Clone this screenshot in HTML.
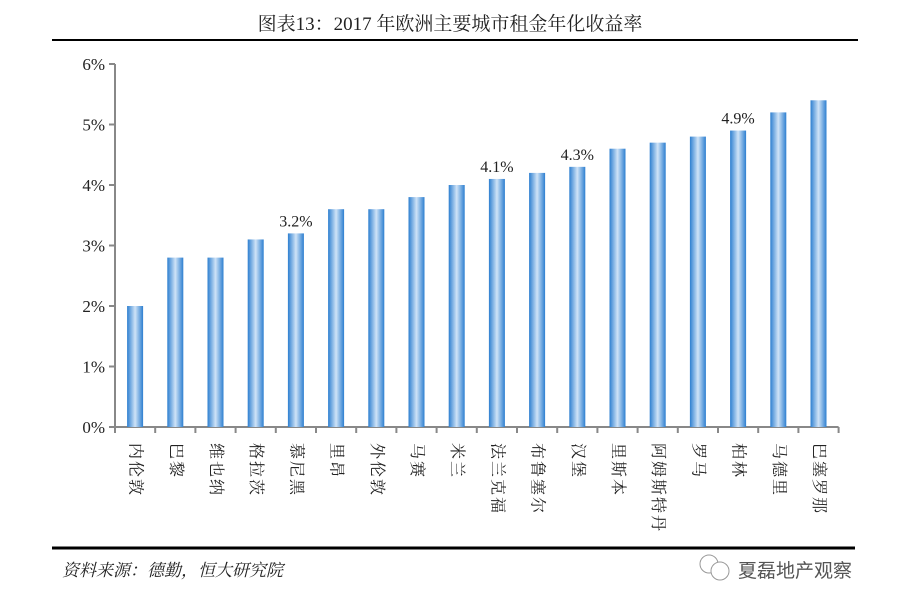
<!DOCTYPE html>
<html><head><meta charset="utf-8"><style>
body{margin:0;background:#fff;width:899px;height:608px;overflow:hidden;font-family:"Liberation Serif","Noto Serif CJK SC",serif}
</style></head><body>
<svg width="899" height="608">
<defs><linearGradient id="g" x1="0" x2="1"><stop offset="0" stop-color="#2d7fd0"/><stop offset="0.5" stop-color="#cfe3f7"/><stop offset="1" stop-color="#2d7fd0"/></linearGradient></defs>
<text x="450" y="30" text-anchor="middle" font-size="19" fill="#222">图表13：2017 年欧洲主要城市租金年化收益率</text>
<line x1="52" y1="40" x2="858" y2="40" stroke="#000" stroke-width="2"/>
<g id="plot"></g>
<line x1="52" y1="548" x2="855" y2="548" stroke="#000" stroke-width="3"/>
<text x="62" y="576" font-size="17" font-style="italic" fill="#222">资料来源：德勤，恒大研究院</text>
<g><circle cx="709" cy="564" r="9" fill="none" stroke="#999"/><circle cx="720" cy="571" r="9" fill="#fff" stroke="#999"/>
<text x="738" y="577" font-size="19" fill="#555" font-family="Liberation Sans,Noto Sans CJK SC,sans-serif">夏磊地产观察</text></g>
</svg>
<script>
const categories=["内伦敦","巴黎","维也纳","格拉茨","慕尼黑","里昂","外伦敦","马赛","米兰","法兰克福","布鲁塞尔","汉堡","里斯本","阿姆斯特丹","罗马","柏林","马德里","巴塞罗那"];
const values=[2.0,2.8,2.8,3.1,3.2,3.6,3.6,3.8,4.0,4.1,4.2,4.3,4.6,4.7,4.8,4.9,5.2,5.4];
const labeled=[4,9,11,15];
const yTicks=[0,1,2,3,4,5,6];
const NS="http://www.w3.org/2000/svg",g=document.getElementById('plot');
const x0=115,step=40.2,y0=427,ppu=60.5;
const X=i=>x0+step*(i+0.5),Y=v=>y0-v*ppu;
function mk(t,a,txt){const e=document.createElementNS(NS,t);for(const k in a)e.setAttribute(k,a[k]);if(txt!==undefined)e.textContent=txt;g.appendChild(e);return e;}
let e=mk('line',{x1:x0,y1:Y(6),x2:x0,y2:y0,stroke:'#888','stroke-width':2});

e=mk('line',{x1:x0,y1:y0,x2:x0+step*categories.length,y2:y0,stroke:'#888','stroke-width':2});

yTicks.forEach(t=>{e=mk('line',{x1:x0-6,y1:Y(t),x2:x0,y2:Y(t),stroke:'#888','stroke-width':2});

e=mk('text',{x:x0-10,y:Y(t)+6,'text-anchor':'end','font-size':17,fill:'#222'},t+'%');
});
for(let i=0;i<=categories.length;i++){e=mk('line',{x1:x0+step*i,y1:y0,x2:x0+step*i,y2:y0+6,stroke:'#888','stroke-width':2});
}
categories.forEach((c,i)=>{
e=mk('rect',{x:X(i)-8,y:Y(values[i]),width:16,height:values[i]*ppu,fill:'url(#g)'});

e=mk('text',{x:0,y:0,'font-size':16,fill:'#222','dominant-baseline':'central','letter-spacing':'2',transform:`translate(${X(i)},443) rotate(90)`},c);

if(labeled.includes(i)){e=mk('text',{x:X(i),y:Y(values[i])-7,'text-anchor':'middle','font-size':16,fill:'#222'},values[i].toFixed(1)+'%');
}
});
</script>
</body></html>
